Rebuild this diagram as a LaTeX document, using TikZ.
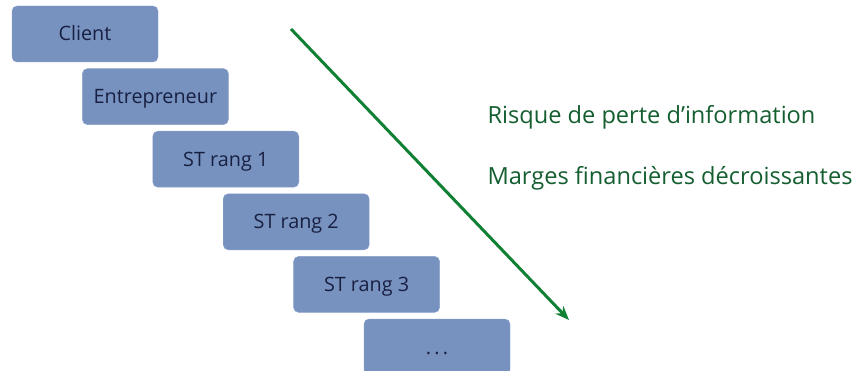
\documentclass[tikz,border=0pt]{standalone}
\usepackage{fontspec}
\setmainfont{Open Sans}
\usetikzlibrary{arrows.meta}
\definecolor{boxblue}{RGB}{120,146,192}
\definecolor{boxline}{RGB}{140,162,204}
\definecolor{navy}{RGB}{24,32,66}
\definecolor{arrowgreen}{RGB}{16,128,52}
\definecolor{textgreen}{RGB}{20,94,48}
\begin{document}
\begin{tikzpicture}[x=1pt,y=-1pt,
	stage/.style={draw=boxline, fill=boxblue, rounded corners=5pt, minimum width=146pt,
		minimum height=56pt, text=navy, text height=16pt, text depth=2pt,
		font=\fontsize{19.8}{22}\selectfont},
	remark/.style={anchor=west, text=textgreen, font=\fontsize{23.6}{26}\selectfont}]
		\useasboundingbox (0,0) rectangle (861,371);
		\def \dx {70.4}
		\def \dy {62.6}
		
		\foreach \s/\txt in {0/Client,1/Entrepreneur,2/ST rang 1,3/ST rang 2,4/ST rang 3,5/{.\,.\,.}}
		{
			\node[stage] (b\s) at ({85+\dx*\s},{34+\dy*\s}) {\txt};
		}
		
		\coordinate (debut) at (291,29);
		\coordinate (fin) at (569,320);
		\draw[arrowgreen, line width=3pt, -{Stealth[length=14pt,width=11pt]}] (debut) -- (fin);
		
		\node[remark] (risque) at (484,117) {Risque de perte d’information};
		\node[remark] (marges) at (484,178) {Marges financières décroissantes};
		\end{tikzpicture}
\end{document}
